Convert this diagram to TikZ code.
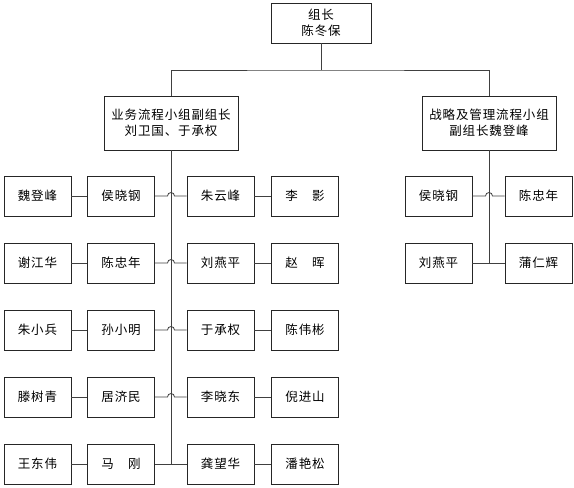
\documentclass[tikz,border=0pt]{standalone}
\usepackage{fontspec}
\newfontfamily\cjk[LetterSpace=7]{Noto Sans CJK SC}
\usetikzlibrary{calc}
\begin{document}
\begin{tikzpicture}[x=1pt,y=1pt,
  box/.style={draw=black!85,line width=0.8pt,fill=white,minimum width=67pt,minimum height=40pt,inner sep=0pt,font=\cjk\fontsize{12.5}{16}\selectfont,align=center},
  big/.style={box,minimum width=134pt,minimum height=54pt},
  top/.style={box,minimum width=100pt,minimum height=40pt},
  ln/.style={draw=black!75,line width=0.8pt}]
\useasboundingbox (0,0) rectangle (574,488);
\node[top] (root) at (321,465) {组长\\陈冬保};
\node[big] (L) at (171,365) {业务流程小组副组长\\刘卫国、于承权};
\node[big] (R) at (489,365) {战略及管理流程小组\\副组长魏登峰};
\coordinate (bus) at (321,418);
\draw[ln] (root.south) -- (bus);
\draw[ln] (L.north) |- (bus) -| (R.north);
% left column
\foreach \i/\y/\a/\b/\c/\d in {1/292/魏登峰/侯晓钢/朱云峰/李　影,2/225/谢江华/陈忠年/刘燕平/赵　晖,3/158/朱小兵/孙小明/于承权/陈伟彬,4/91/滕树青/居济民/李晓东/倪进山,5/24/王东伟/马　刚/龚望华/潘艳松}{
  \node[box] (a\i) at (37.5,\y) {\a};
  \node[box] (b\i) at (121,\y) {\b};
  \node[box] (c\i) at (220.5,\y) {\c};
  \node[box] (d\i) at (305,\y) {\d};
  \draw[ln] (a\i) -- (b\i);
  \draw[ln] (c\i) -- (d\i);
}
\coordinate (Lend) at (171,24);
\draw[ln] (L.south) -- (Lend);
\foreach \i in {1,2,3,4}{
  \draw[ln] (b\i.east) -- ($(L.south|-b\i.east)+(-3.5,0)$) arc (180:0:3.5) -- (c\i.west);
}
\draw[ln] (b5.east) -- (c5.west);
% right column
\node[box] (e1) at (438.5,292) {侯晓钢};
\node[box] (f1) at (538.5,292) {陈忠年};
\node[box] (e2) at (438.5,225) {刘燕平};
\node[box] (f2) at (538.5,225) {蒲仁辉};
\coordinate (Rend) at (489,225);
\draw[ln] (R.south) -- (Rend);
\draw[ln] (e1.east) -- ($(R.south|-e1.east)+(-3.5,0)$) arc (180:0:3.5) -- (f1.west);
\draw[ln] (e2.east) -- (f2.west);
\end{tikzpicture}
\end{document}
